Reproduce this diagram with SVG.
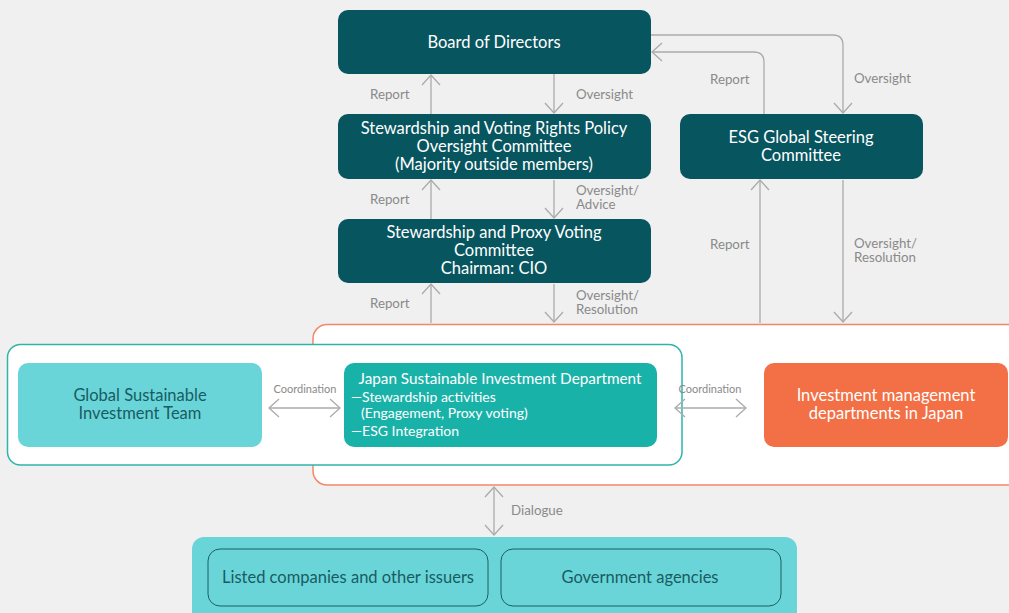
<svg xmlns="http://www.w3.org/2000/svg" width="1009" height="613" viewBox="0 0 1009 613">
<defs>
<marker id="chev" viewBox="-1 -1 12 20" refX="10" refY="9" markerWidth="12" markerHeight="20" markerUnits="userSpaceOnUse" orient="auto-start-reverse" overflow="visible">
<path d="M0,0 L10,9 L0,18" fill="none" stroke="#ababab" stroke-width="1.3"/>
</marker>
<style>
.dark{fill:#07555f}
.wt{font-family:Lato,"Open Sans",sans-serif;font-size:16.5px;fill:#ffffff;text-anchor:middle}
.dt{font-family:Lato,"Open Sans",sans-serif;font-size:16.5px;fill:#185c63;text-anchor:middle}
.lbl{font-family:Lato,"Open Sans",sans-serif;font-size:13.3px;fill:#8a8a8a}
.sm{font-family:Lato,"Open Sans",sans-serif;font-size:11px;fill:#8a8a8a;text-anchor:middle}
.st{font-family:Lato,"Open Sans",sans-serif;font-size:14px;fill:#ffffff}
.ln{fill:none;stroke:#ababab;stroke-width:1.3}
.a1{marker-end:url(#chev)}
.a2{marker-start:url(#chev);marker-end:url(#chev)}
</style>
</defs>
<rect x="0" y="0" width="1009" height="613" fill="#f0f0f0"/>

<g id="japan-area">
<rect x="313" y="324.5" width="710" height="160.5" rx="14" fill="#ffffff" stroke="#f4876a" stroke-width="1.5"/>
</g>
<g id="sustainable-group">
<rect x="7.5" y="344.5" width="674.5" height="120.5" rx="13" fill="#ffffff" stroke="#2db5ad" stroke-width="1.5"/>
</g>

<g id="connectors">
<path class="ln a1" d="M431,114 V75"/>
<path class="ln a1" d="M554,74 V113"/>
<path class="ln a1" d="M431,219 V180"/>
<path class="ln a1" d="M554,180 V218"/>
<path class="ln a1" d="M431,323 V284"/>
<path class="ln a1" d="M554,284 V322"/>
<path class="ln a1" d="M651,35 H833 Q843,35 843,45 V113"/>
<path class="ln a1" d="M764,114 V62 Q764,52 754,52 H652"/>
<path class="ln a1" d="M760,323 V180"/>
<path class="ln a1" d="M843,180 V322"/>
<path class="ln a2" d="M269,408 H340"/>
<path class="ln a2" d="M675,408 H746"/>
<path class="ln a2" d="M494,487 V535"/>
<text class="lbl" x="370" y="99">Report</text>
<text class="lbl" x="576" y="99">Oversight</text>
<text class="lbl" x="370" y="204">Report</text>
<text class="lbl" x="576" y="195">Oversight/</text>
<text class="lbl" x="576" y="209">Advice</text>
<text class="lbl" x="370" y="308">Report</text>
<text class="lbl" x="576" y="300">Oversight/</text>
<text class="lbl" x="576" y="314">Resolution</text>
<text class="lbl" x="710" y="84">Report</text>
<text class="lbl" x="854" y="83">Oversight</text>
<text class="lbl" x="710" y="249">Report</text>
<text class="lbl" x="854" y="248">Oversight/</text>
<text class="lbl" x="854" y="262">Resolution</text>
<text class="sm" x="305" y="393">Coordination</text>
<text class="sm" x="710" y="393">Coordination</text>
<text class="lbl" x="511" y="515">Dialogue</text>
</g>

<g id="board">
<rect class="dark" x="338" y="10" width="313" height="64" rx="10"/>
<text class="wt" x="494" y="48">Board of Directors</text>
</g>
<g id="policy-committee">
<rect class="dark" x="338" y="114" width="313" height="65" rx="10"/>
<text class="wt" x="494" y="134">Stewardship and Voting Rights Policy</text>
<text class="wt" x="494" y="152">Oversight Committee</text>
<text class="wt" x="494" y="170">(Majority outside members)</text>
</g>
<g id="proxy-committee">
<rect class="dark" x="338" y="219" width="313" height="64" rx="10"/>
<text class="wt" x="494" y="238">Stewardship and Proxy Voting</text>
<text class="wt" x="494" y="256">Committee</text>
<text class="wt" x="494" y="274">Chairman: CIO</text>
</g>
<g id="esg-committee">
<rect class="dark" x="680" y="114" width="243" height="65" rx="10"/>
<text class="wt" x="801" y="143">ESG Global Steering</text>
<text class="wt" x="801" y="161">Committee</text>
</g>
<g id="global-team">
<rect x="18" y="363" width="244" height="84" rx="10" fill="#6ad5d8"/>
<text class="dt" x="140" y="401">Global Sustainable</text>
<text class="dt" x="140" y="419">Investment Team</text>
</g>
<g id="japan-dept">
<rect x="344" y="363" width="313" height="84" rx="10" fill="#19b2a9"/>
<text class="wt" x="500" y="384" style="font-size:15.3px">Japan Sustainable Investment Department</text>
<text class="st" x="351" y="402">—Stewardship activities</text>
<text class="st" x="361" y="418">(Engagement, Proxy voting)</text>
<text class="st" x="351" y="436">—ESG Integration</text>
</g>
<g id="investment-mgmt">
<rect x="764" y="363" width="244" height="84" rx="10" fill="#f36f45"/>
<text class="wt" x="886" y="401">Investment management</text>
<text class="wt" x="886" y="419">departments in Japan</text>
</g>
<g id="stakeholders">
<rect x="192" y="537" width="605" height="90" rx="12" fill="#6ad5d8"/>
</g>
<g id="listed-companies">
<rect x="208" y="549" width="280" height="57" rx="12" fill="#6ad5d8" stroke="#1d5d63" stroke-width="1"/>
<text class="dt" x="348" y="583">Listed companies and other issuers</text>
</g>
<g id="government">
<rect x="501" y="549" width="280" height="57" rx="12" fill="#6ad5d8" stroke="#1d5d63" stroke-width="1"/>
<text class="dt" x="640" y="583">Government agencies</text>
</g>
</svg>
